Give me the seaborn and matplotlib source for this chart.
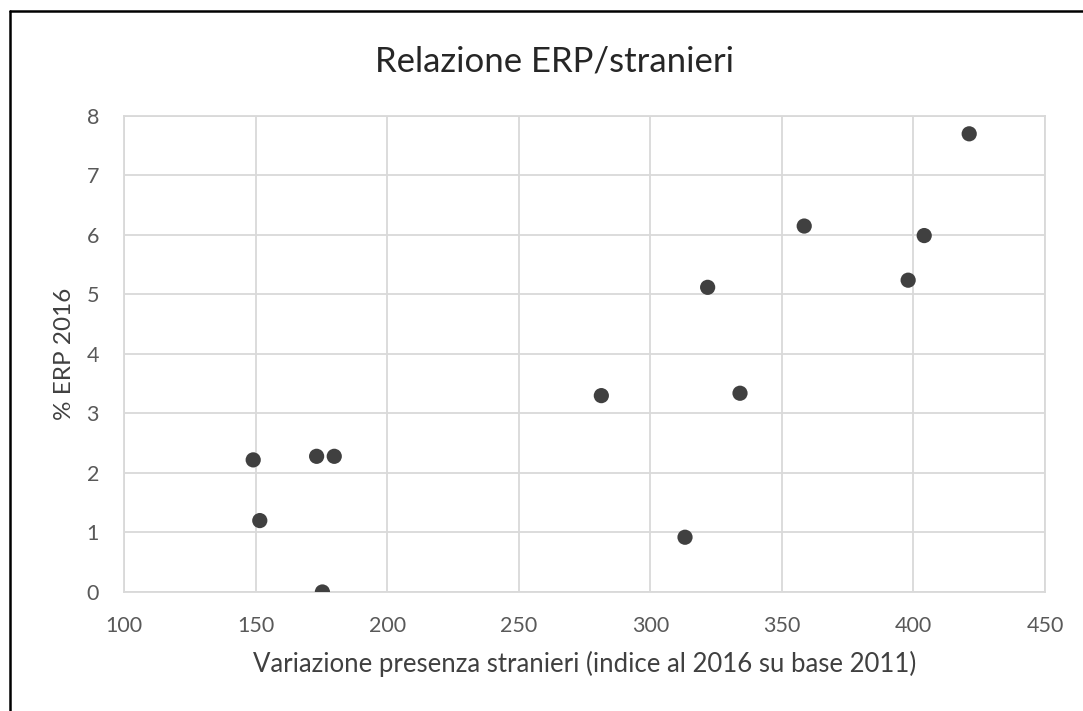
import numpy as np
import pandas as pd
import seaborn as sns
import matplotlib.pyplot as plt
from matplotlib.lines import Line2D


# values
variazione = [149.1, 151.6, 173.2, 179.9, 175.4, 281.4, 313.2,
              321.8, 334.1, 358.5, 398.0, 404.1, 421.2]
erp = [2.22, 1.20, 2.28, 2.28, 0.00, 3.30, 0.92,
       5.12, 3.34, 6.15, 5.24, 5.99, 7.70]
x_ticks = [100, 150, 200, 250, 300, 350, 400, 450]
y_ticks = [0, 1, 2, 3, 4, 5, 6, 7, 8]

title = 'Relazione ERP/stranieri'
x_label = 'Variazione presenza stranieri (indice al 2016 su base 2011)'
y_label = '% ERP 2016'

df = pd.DataFrame({'x': variazione, 'y': erp})

sns.set_style('white')
plt.rcParams['font.family'] = ['Lato', 'DejaVu Sans']

fig = plt.figure(figsize=(10.83, 7.11), dpi=100)
ax = fig.add_axes([0.1145, 0.1674, 0.8504, 0.6695])

sns.scatterplot(data=df, x='x', y='y', ax=ax, s=120,
                color='#404040', edgecolor='none', zorder=3)

ax.set_xlim(100, 450)
ax.set_ylim(0, 8)
ax.set_xticks(x_ticks)
ax.set_yticks(y_ticks)
ax.grid(True, color='#d9d9d9', linewidth=1.3)
for sp in ax.spines.values():
    sp.set_color('#d9d9d9')
    sp.set_linewidth(1.3)
ax.tick_params(axis='both', length=0, labelsize=15.5, colors='#595959')
ax.tick_params(axis='x', pad=17)
ax.tick_params(axis='y', pad=18)

ax.set_xlabel(x_label, fontsize=18.5, color='#404040', labelpad=11)
ax.set_ylabel(y_label, fontsize=17.5, color='#404040', labelpad=8)
fig.text(0.512, 0.913, title, fontsize=25, color='#262626',
         ha='center', va='center')

# outer frame (left and top edges visible in the crop)
fig.add_artist(Line2D([0.009, 0.009], [0.0, 0.985], transform=fig.transFigure,
                      color='black', linewidth=1.8))
fig.add_artist(Line2D([0.009, 1.0], [0.985, 0.985], transform=fig.transFigure,
                      color='black', linewidth=1.8))

fig.savefig('out.png', dpi=100)
